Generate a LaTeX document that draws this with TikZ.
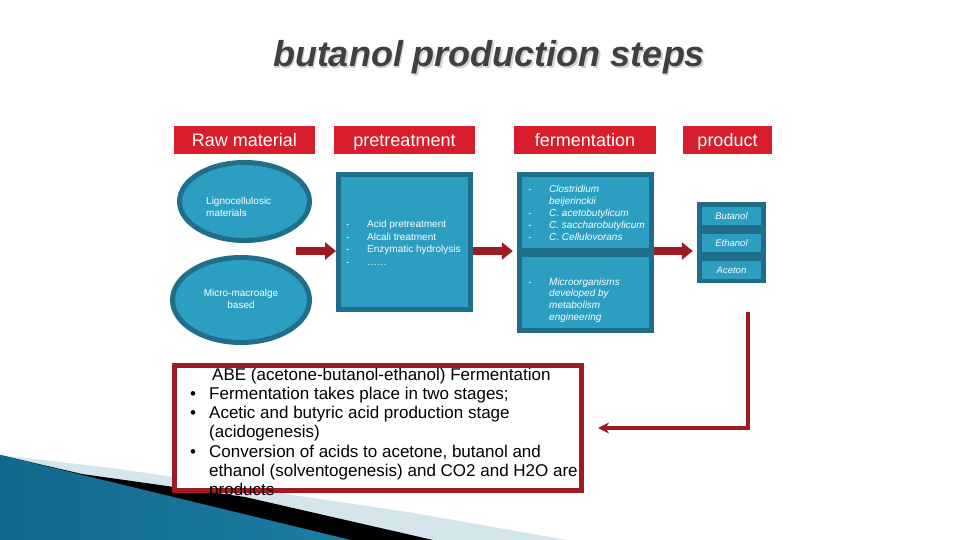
\documentclass[tikz,border=0pt]{standalone}
\usepackage{fontspec}
\setmainfont{Liberation Sans}
\usetikzlibrary{shapes.geometric,arrows.meta}

\definecolor{hdred}{HTML}{D81E2C}
\definecolor{arrred}{HTML}{9E1B23}
\definecolor{tealdark}{HTML}{206E8B}
\definecolor{tealfill}{HTML}{2C9EC1}
\definecolor{titlegray}{HTML}{404040}
\definecolor{shadowgray}{HTML}{D2D2D2}
\definecolor{bandgray}{HTML}{D5E5EC}
\definecolor{wedgedark}{HTML}{12698C}
\definecolor{wedgelight}{HTML}{52B8DC}
\definecolor{wedgeend}{HTML}{1C7DA3}

\tikzset{
  title/.style={text=titlegray, inner sep=0pt, font=\fontsize{36}{40}\selectfont\bfseries\itshape},
  header/.style={fill=hdred, text=white, inner sep=0pt, minimum height=28pt, text height=14pt, text depth=1pt, font=\fontsize{18}{21}\selectfont},
  source/.style={ellipse, draw=tealdark, fill=tealfill, line width=5pt, inner sep=0pt},
  sourcetext/.style={text=white, inner sep=0pt, font=\fontsize{10}{12}\selectfont},
  panel/.style={draw=tealdark, fill=tealfill, line width=5pt, inner sep=0pt},
  outerbox/.style={fill=tealdark, inner sep=0pt},
  innerpanel/.style={fill=tealfill, inner sep=0pt},
  listtext/.style={text=white, inner sep=0pt, align=left},
  prodtext/.style={innerpanel, minimum width=59pt, minimum height=18pt, text=white, font=\fontsize{9.5}{11}\selectfont\itshape},
  abebox/.style={draw=arrred, fill=white, line width=5pt, inner sep=0pt},
  bigarrow/.style={draw=arrred, line width=8pt, -{Triangle[length=11pt,width=17pt]}},
  backarrow/.style={draw=arrred, line width=4pt, -{Stealth[length=11pt,width=11pt]}},
}
\newcommand{\dsh}{\makebox[21pt][l]{-}}
\newcommand{\blt}{\makebox[19pt][l]{\textbullet}}

\begin{document}
\begin{tikzpicture}[x=1pt,y=-1pt]
\useasboundingbox (0,0) rectangle (960,540);
\fill[bandgray] (0,455) -- (120,469) -- (245,488) -- (408,512) -- (567,540) -- (0,540) -- cycle;
\fill[black] (0,455) -- (82,474) -- (245,497) -- (433,540) -- (0,540) -- cycle;
\shade[left color=wedgedark, middle color=wedgelight, right color=wedgeend] (0,455) -- (351,540) -- (0,540) -- cycle;

\node[title, text=shadowgray, anchor=base] (ttlshadow) at (490.5,68.5) {butanol production steps};
\node[title, anchor=base] (ttl) at (489,67) {butanol production steps};

\node[header, minimum width=141pt] (hraw) at (244.5,140) {Raw material};
\node[header, minimum width=141pt] (hpre) at (404.5,140) {pretreatment};
\node[header, minimum width=142pt] (hferm) at (585,140) {fermentation};
\node[header, minimum width=89pt] (hprod) at (727.5,140) {product};

\node[source, minimum width=130pt, minimum height=78pt] (ligno) at (244.5,201.5) {};
\node[sourcetext, anchor=west, align=left] (lignotxt) at (206,207) {Lignocellulosic\\materials};
\node[source, minimum width=137pt, minimum height=85pt] (algae) at (241,300) {};
\node[sourcetext, align=center] (algaetxt) at (241,299) {Micro-macroalge\\based};

\node[panel, minimum width=132pt, minimum height=135pt] (pre) at (404.5,242) {};
\node[listtext, anchor=west, font=\fontsize{10}{12.5}\selectfont] (pretxt) at (346,243)
  {\dsh Acid pretreatment\\ \dsh Alcali treatment\\ \dsh Enzymatic hydrolysis\\ \dsh ……};

\node[outerbox, minimum width=137pt, minimum height=161pt] (ferm) at (585.5,252.5) {};
\node[innerpanel, minimum width=127pt, minimum height=71pt] (fermtop) at (585.5,212.5) {};
\node[innerpanel, minimum width=127pt, minimum height=71pt] (fermbot) at (585.5,292.5) {};
\node[listtext, anchor=west, font=\fontsize{10}{12}\selectfont\itshape] (fermtoptxt) at (528,213)
  {\dsh Clostridium\\ \hspace*{21pt}beijerinckii\\ \dsh C. acetobutylicum\\ \dsh C. saccharobutylicum\\ \dsh C. Cellulovorans};
\node[listtext, anchor=west, font=\fontsize{10}{11.7}\selectfont\itshape] (fermbottxt) at (528,300)
  {\dsh Microorganisms\\ \hspace*{21pt}developed by\\ \hspace*{21pt}metabolism\\ \hspace*{21pt}engineering};

\node[outerbox, minimum width=69pt, minimum height=81pt] (prod) at (731.5,242.5) {};
\node[prodtext] (butanol) at (731.5,216) {Butanol};
\node[prodtext] (ethanol) at (731.5,243) {Ethanol};
\node[prodtext] (aceton) at (731.5,270) {Aceton};

\coordinate (rawout) at (296,251);
\draw[bigarrow] (rawout) -- (rawout -| pre.west);
\draw[bigarrow, shorten >=4pt] (pre.east |- rawout) -- (rawout -| ferm.west);
\draw[bigarrow, shorten >=4pt] (ferm.east |- rawout) -- (rawout -| prod.west);

\node[abebox, minimum width=407pt, minimum height=125pt] (abe) at (378,428) {};
\node[inner sep=0pt, anchor=north west, align=left, font=\fontsize{17}{19.3}\selectfont] (abetxt) at (190,367.5)
  {\hspace*{22pt}ABE (acetone-butanol-ethanol) Fermentation\\
   \blt Fermentation takes place in two stages;\\
   \blt Acetic and butyric acid production stage\\
   \hspace*{19pt}(acidogenesis)\\
   \blt Conversion of acids to acetone, butanol and\\
   \hspace*{19pt}ethanol (solventogenesis) and CO2 and H2O are\\
   \hspace*{19pt}products};

\coordinate (fbstart) at (748,312);
\draw[backarrow] (fbstart) |- ([xshift=14pt]abe.east);
\end{tikzpicture}
\end{document}
